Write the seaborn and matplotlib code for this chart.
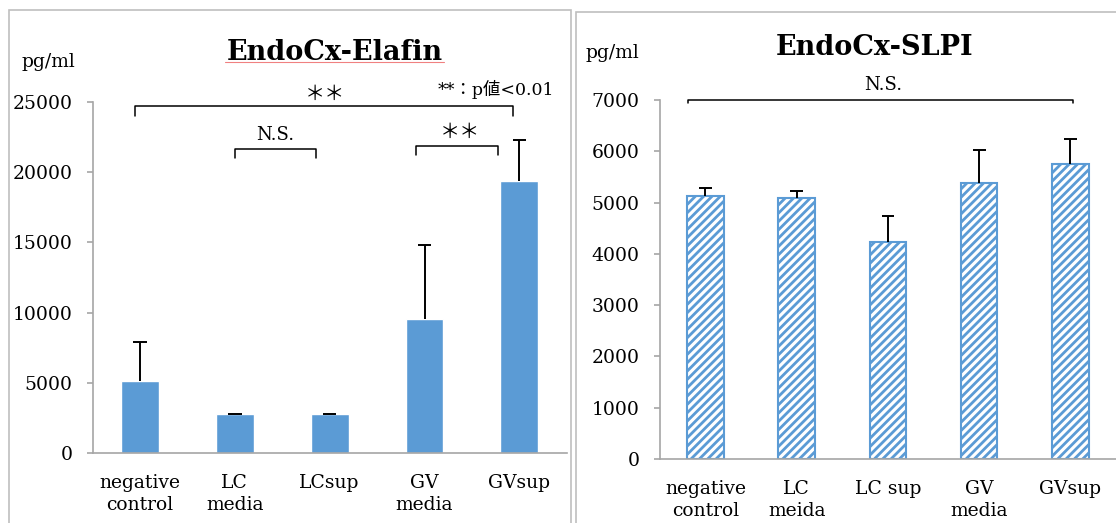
import matplotlib
matplotlib.use('Agg')
import matplotlib.pyplot as plt
import seaborn as sns
from matplotlib.lines import Line2D
from matplotlib.patches import Rectangle

# data
elafin_groups = ['negative\ncontrol', 'LC\nmedia', 'LCsup', 'GV\nmedia', 'GVsup']
elafin_mean = [5150, 2750, 2750, 9550, 19350]
elafin_err = [2750, 50, 50, 5250, 2950]

slpi_groups = ['negative\ncontrol', 'LC\nmeida', 'LC sup', 'GV\nmedia', 'GVsup']
slpi_mean = [5120, 5090, 4230, 5380, 5750]
slpi_err = [160, 140, 510, 650, 480]

BLUE = '#5B9BD5'
GRAY = '#A6A6A6'

sns.set_theme(style='white')
plt.rcParams['font.family'] = ['DejaVu Serif', 'Noto Sans CJK JP']
plt.rcParams['text.color'] = 'black'
plt.rcParams['xtick.labelcolor'] = 'black'
plt.rcParams['ytick.labelcolor'] = 'black'
plt.rcParams['hatch.linewidth'] = 2.0
plt.rcParams['hatch.color'] = BLUE


def style_axes(ax, ymax, ystep, xmax):
    ax.set_ylim(0, ymax)
    ax.set_xlim(-0.5, xmax)
    ax.set_yticks(range(0, ymax + 1, ystep))
    ax.set_xlabel('')
    ax.set_ylabel('')
    for s in ['top', 'right']:
        ax.spines[s].set_visible(False)
    for s in ['left', 'bottom']:
        ax.spines[s].set_color(GRAY)
        ax.spines[s].set_linewidth(1.2)
    ax.set_xticks([-0.5, 0.5, 1.5, 2.5, 3.5, 4.5], minor=True)
    ax.tick_params(axis='x', which='major', length=0, pad=15, labelsize=13.5, labelcolor='black')
    ax.tick_params(axis='x', which='minor', length=6, width=1.2, color=GRAY, direction='out')
    ax.tick_params(axis='y', length=4, width=1.2, color=GRAY, direction='out', pad=10.5,
                   labelsize=13.5, labelcolor='black', left=True)
    for lab in ax.get_xticklabels():
        lab.set_linespacing(1.3)


def up_errors(ax, means, errs):
    xs = range(len(means))
    tops = [m + e for m, e in zip(means, errs)]
    ax.vlines(xs, means, tops, color='black', lw=1.4, zorder=3)
    ax.hlines(tops, [x - 0.07 for x in xs], [x + 0.07 for x in xs], color='black', lw=1.4, zorder=3)


def bracket(ax, x0, x1, y, drop):
    ax.plot([x0, x0, x1, x1], [y - drop, y, y, y - drop], color='black', lw=1.1, clip_on=False)


fig = plt.figure(figsize=(11.16, 5.23), dpi=100)

# panel frames
fig.add_artist(Rectangle((9 / 1116, -0.1), 562 / 1116, 1.1 - 10 / 523, transform=fig.transFigure,
                         fill=False, edgecolor='#BFBFBF', lw=1.2))
fig.add_artist(Rectangle((576 / 1116, -0.1), 0.6, 1.1 - 12 / 523, transform=fig.transFigure,
                         fill=False, edgecolor='#BFBFBF', lw=1.2))

# ---- Elafin
ax1 = fig.add_axes([92.7 / 1116, 1 - 453 / 523, 474 / 1116, 351 / 523])
sns.barplot(x=elafin_groups, y=elafin_mean, ax=ax1, color=BLUE, saturation=1, width=0.4, errorbar=None)
up_errors(ax1, elafin_mean, elafin_err)
style_axes(ax1, 25000, 5000, 4.5)

bracket(ax1, -0.05, 3.93, 24700, 700)
ax1.text(1.95, 25570, '＊＊', ha='center', va='center', fontsize=14.5, family=['Noto Sans CJK JP'])
bracket(ax1, 1.0, 1.86, 21650, 650)
ax1.text(1.43, 22300, 'N.S.', ha='center', va='baseline', fontsize=13)
bracket(ax1, 2.91, 3.78, 21900, 650)
ax1.text(3.37, 22830, '＊＊', ha='center', va='center', fontsize=14.5, family=['Noto Sans CJK JP'])
ax1.text(3.75, 25500, '**：p値<0.01', ha='center', va='baseline', fontsize=12.5)

fig.text(335 / 1116, 1 - 60 / 523, 'EndoCx-Elafin', ha='center', va='baseline', fontsize=19.5, fontweight='bold')
fig.add_artist(Line2D([225 / 1116, 444 / 1116], [1 - 62 / 523] * 2, color='#F08080', lw=0.8))
fig.text(21 / 1116, 1 - 67 / 523, 'pg/ml', ha='left', va='baseline', fontsize=13.5)

# ---- SLPI
ax2 = fig.add_axes([659.8 / 1116, 1 - 459 / 523, 456.2 / 1116, 359 / 523])
sns.barplot(x=slpi_groups, y=slpi_mean, ax=ax2, color=BLUE, saturation=1, width=0.4, errorbar=None)
for p in ax2.patches:
    p.set_facecolor('white')
    p.set_edgecolor(BLUE)
    p.set_linewidth(1.5)
    p.set_hatch('////')
up_errors(ax2, slpi_mean, slpi_err)
style_axes(ax2, 7000, 1000, 4.43)

bracket(ax2, -0.19, 4.03, 7000, 60)
ax2.text(1.95, 7190, 'N.S.', ha='center', va='baseline', fontsize=13)

fig.text(875 / 1116, 1 - 55 / 523, 'EndoCx-SLPI', ha='center', va='baseline', fontsize=19.5, fontweight='bold')
fig.text(586 / 1116, 1 - 58 / 523, 'pg/ml', ha='left', va='baseline', fontsize=13.5)

fig.savefig('out.png', dpi=100)
